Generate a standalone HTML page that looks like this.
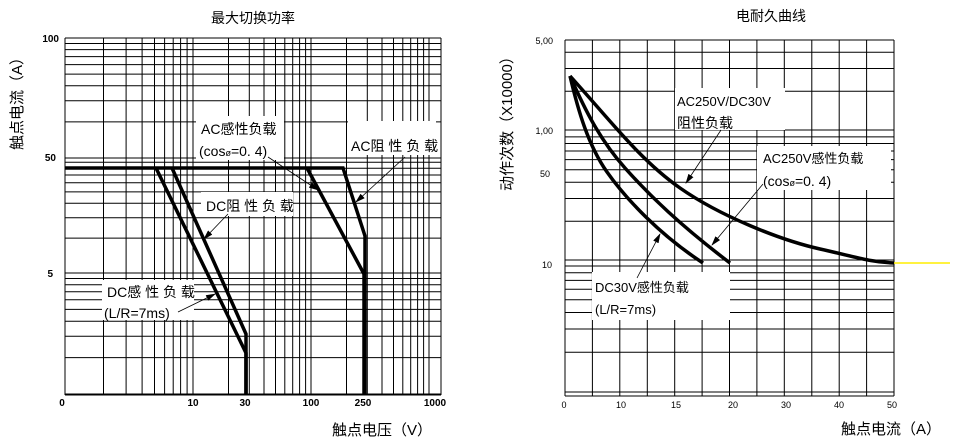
<!DOCTYPE html>
<html><head><meta charset="utf-8"><style>
html,body{margin:0;padding:0;background:#fff;}
svg{display:block;font-family:"Liberation Sans","Noto Sans CJK SC",sans-serif;}
</style></head><body>
<svg id="s" width="960" height="442" viewBox="0 0 960 442" xmlns="http://www.w3.org/2000/svg">
<defs><marker id="ar" markerWidth="10" markerHeight="6" refX="9" refY="3" orient="auto" markerUnits="userSpaceOnUse"><path d="M0,0 L10,3 L0,6 z" fill="#000"/></marker></defs>
<g id="grid" stroke="#000" stroke-width="1"></g>
<g fill="none" stroke="#000" stroke-width="3.5" stroke-linejoin="miter">
<polyline points="65,168 343,168 365,236 365,395"/>
<polyline points="307,168 364,274 364,395"/>
<polyline points="172,168 246,334 246,395"/>
<polyline points="156,168 246,353 246,395"/>
</g>
<g fill="none" stroke="#000" stroke-width="3.5">
<path d="M570,76 C610,120 640,160 680,188 S780,240 820,249 S870,262 894,263"/>
<path d="M570,76 C585,110 600,140 625,168 S680,225 730,263"/>
<path d="M570,76 C578,110 588,145 607,172 S660,235 703,263"/>
</g>
<line x1="894" y1="263" x2="950" y2="263" stroke="#ffee00" stroke-width="1.5"/>
<g fill="#fff">
<rect x="196" y="116" width="88" height="44"/>
<rect x="348" y="121" width="88" height="34"/>
<rect x="201" y="192" width="92" height="24"/>
<rect x="102" y="280" width="92" height="40"/>
<rect x="675" y="88" width="110" height="42"/>
<rect x="757" y="146" width="134" height="44"/>
<rect x="592" y="272" width="138" height="48"/>
</g>
<g font-size="14" fill="#000">
<text x="201" y="134">AC感性负载</text>
<text x="199" y="156">(cos<tspan font-size="9">ø</tspan>=0. 4)</text>
<text x="351" y="151">AC阻 性 负 载</text>
<text x="206" y="211">DC阻 性 负 载</text>
<text x="107" y="297">DC感 性 负 载</text>
<text x="104" y="318">(L/R=7ms)</text>
<text x="677" y="106" font-size="13">AC250V/DC30V</text>
<text x="677" y="128">阻性负载</text>
<text x="763" y="163" font-size="13">AC250V感性负载</text>
<text x="763" y="186">(cos<tspan font-size="9">ø</tspan>=0. 4)</text>
<text x="595" y="292" font-size="13">DC30V感性负载</text>
<text x="595" y="314" font-size="13">(L/R=7ms)</text>
</g>
<g stroke="#000" stroke-width="0.8" fill="none" marker-end="url(#ar)">
<line x1="268" y1="157" x2="318" y2="190"/>
<line x1="405" y1="157" x2="356" y2="202"/>
<line x1="228" y1="214" x2="204" y2="239"/>
<line x1="178" y1="312" x2="215" y2="294"/>
<line x1="721" y1="130" x2="686" y2="183"/>
<line x1="763" y1="184" x2="712" y2="245"/>
<line x1="637" y1="278" x2="660" y2="234"/>
</g>
<g fill="#000">
<text x="253" y="23" font-size="14" text-anchor="middle">最大切换功率</text>
<text x="771" y="21" font-size="14" text-anchor="middle">电耐久曲线</text>
<text x="382" y="435" font-size="15" text-anchor="middle">触点电压（V）</text>
<text x="891" y="434" font-size="15" text-anchor="middle">触点电流（A）</text>
<text transform="translate(22,100) rotate(-90)" font-size="15" text-anchor="middle">触点电流（A）</text>
<text transform="translate(512,120) rotate(-90)" font-size="15" text-anchor="middle">动作次数（X10000）</text>
</g>
<g font-size="10" fill="#000" font-weight="bold">
<text x="59" y="42" text-anchor="end">100</text>
<text x="56" y="161" text-anchor="end">50</text>
<text x="53" y="277" text-anchor="end">5</text>
<text x="62" y="406" text-anchor="middle">0</text>
<text x="193" y="406" text-anchor="middle">10</text>
<text x="245" y="406" text-anchor="middle">30</text>
<text x="311" y="406" text-anchor="middle">100</text>
<text x="363" y="406" text-anchor="middle">250</text>
<text x="435" y="406" text-anchor="middle">1000</text>
<g font-weight="normal" font-size="9">
<text x="553" y="44" text-anchor="end">5,00</text>
<text x="553" y="134" text-anchor="end">1,00</text>
<text x="550" y="177" text-anchor="end">50</text>
<text x="552" y="268" text-anchor="end">10</text>
<text x="564" y="408" text-anchor="middle">0</text>
<text x="621" y="408" text-anchor="middle">10</text>
<text x="676" y="408" text-anchor="middle">15</text>
<text x="733" y="408" text-anchor="middle">20</text>
<text x="786" y="408" text-anchor="middle">30</text>
<text x="839" y="408" text-anchor="middle">40</text>
<text x="892" y="408" text-anchor="middle">50</text>
</g>
</g>
</svg>
<script>
var g=document.getElementById('grid'),NS='http://www.w3.org/2000/svg';
function L(x1,y1,x2,y2){var l=document.createElementNS(NS,'line');l.setAttribute('x1',x1);l.setAttribute('y1',y1);l.setAttribute('x2',x2);l.setAttribute('y2',y2);g.appendChild(l);}
var k;
L(65,38,65,395);L(441,38,441,395);
var decs=[[65,128],[193,118],[311,118]];
decs.forEach(function(d){for(k=2;k<=10;k++){var x=d[0]+d[1]*Math.log10(k);if(x<441)L(x.toFixed(1),38,x.toFixed(1),395);}});
L(65,38,441,38);L(65,395,441,395);
var hd=[[158,120],[273,116],[394,121]];
hd.forEach(function(d){for(k=1;k<10;k++){var y=d[0]-d[1]*Math.log10(k);if(y>38&&y<395)L(65,y.toFixed(1),441,y.toFixed(1));}});
for(k=0;k<=12;k++){var x=565+k*(329/12);L(x.toFixed(1),40,x.toFixed(1),396);}
L(565,40,894,40);L(565,396,894,396);
var rd=[[130,129],[260,129],[392,132]];
rd.forEach(function(d){for(k=1;k<10;k++){var y=d[0]-d[1]*Math.log10(k);if(y>40&&y<396)L(565,y.toFixed(1),894,y.toFixed(1));}});
</script>
</body></html>
